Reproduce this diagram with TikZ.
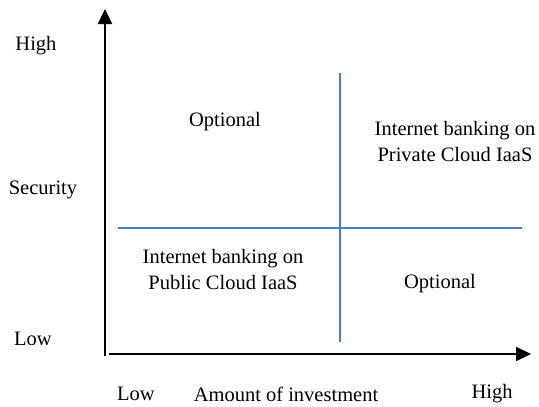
\documentclass[tikz,border=0pt]{standalone}
\usepackage{fontspec}
\setmainfont{Liberation Serif}
\usetikzlibrary{arrows.meta,positioning}

\begin{document}
\begin{tikzpicture}[x=1pt,y=-1pt]
	\tikzstyle{axis} = [line width=2.2pt,-{Triangle[length=15pt,width=14pt]}]
	\tikzstyle{split} = [line width=1.2pt,color={rgb,255:red,74;green,126;blue,187}]
	\tikzstyle{txt} = [font=\fontsize{20.5}{26}\selectfont,align=center,inner sep=0pt]
	\useasboundingbox (0,0) rectangle (539,407);
	% axes
	\coordinate (o1) at (105,356);
	\coordinate (top) at (105,9);
	\coordinate (o2) at (109,354);
	\coordinate (right) at (531,354);
	\draw[axis] (o1) -- (top);
	\draw[axis] (o2) -- (right);
	% quadrant lines
	\coordinate (vt) at (340,73);
	\coordinate (vb) at (340,342);
	\coordinate (hl) at (118,228);
	\coordinate (hr) at (522,228);
	\draw[split] (vt) -- (vb);
	\draw[split] (hl) -- (hr);
	% labels
	\node(yhigh)[txt] at (36,46) {High};
	\node(ysec)[txt] at (43,190) {Security};
	\node(ylow)[txt] at (33,339) {Low};
	\node(xlow)[txt] at (136,394) {Low};
	\node(xamt)[txt] at (286,394) {Amount of investment};
	\node(xhigh)[txt] at (492,394) {High};
	% quadrants
	\node(q1)[txt] at (225,122) {Optional};
	\node(q2)[txt] at (455,141) {Internet banking on\\Private Cloud IaaS};
	\node(q3)[txt] at (223,269) {Internet banking on\\Public Cloud IaaS};
	\node(q4)[txt] at (440,284) {Optional};
\end{tikzpicture}
\end{document}
